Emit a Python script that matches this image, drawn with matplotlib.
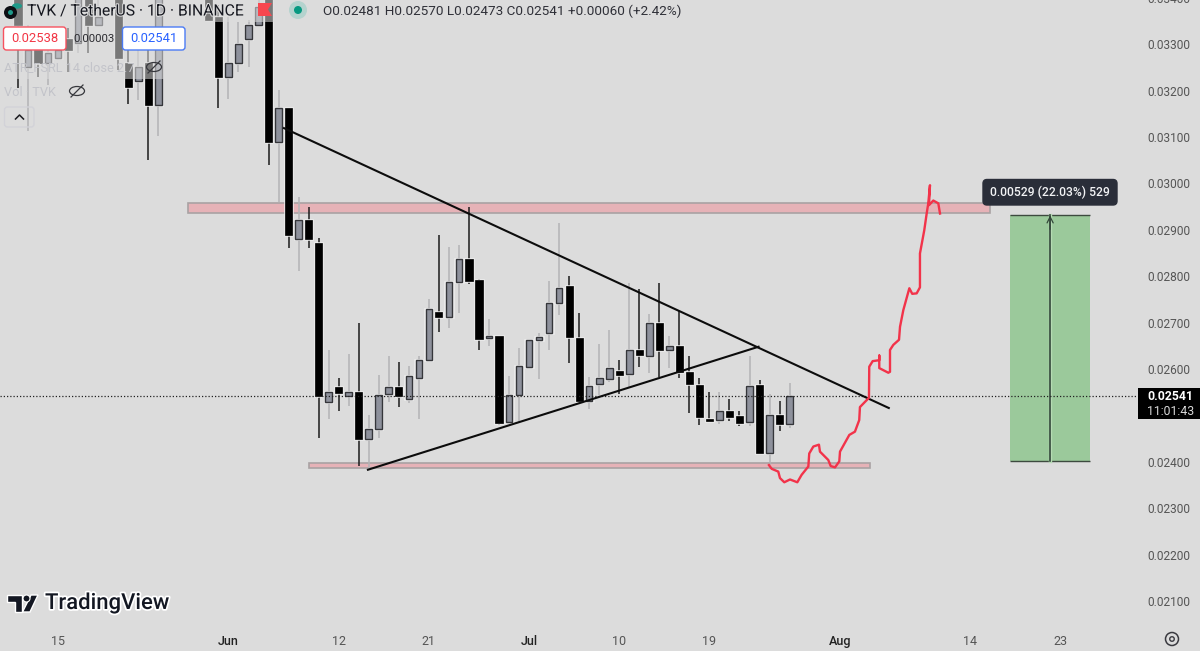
import numpy as np
import matplotlib
matplotlib.use("Agg")
import matplotlib.pyplot as plt
import matplotlib.patheffects as pe
from matplotlib.patches import Rectangle, FancyBboxPatch, Polygon, Circle, Ellipse

plt.rcParams['font.family'] = ['Roboto', 'DejaVu Sans']

# Prices are in points (0.00001), days are counted from 1 June
days = list(range(-21, 57))

opens = [3406, 3251, 3287, 3259, 3270, 3311, 3302, 3406, 3341, 3450, 3406, 3259, 3221, 3259, 3169,
         3440, 3470, 3480, 3450, 3406, 3358, 3229, 3259, 3311, 3341, 3406, 3089, 3162, 2880, 2920,
         2871, 2530, 2561, 2541, 2550, 2449, 2470, 2546, 2561, 2536, 2581, 2620, 2722, 2712, 2787,
         2836, 2791, 2666, 2671, 2485, 2545, 2604, 2662, 2677, 2743, 2779, 2666, 2531, 2567, 2579,
         2596, 2589, 2640, 2629, 2700, 2640, 2650, 2594, 2566, 2492, 2490, 2509, 2499, 2485, 2566,
         2419, 2500, 2481]
closes = [3341, 3287, 3259, 3281, 3287, 3287, 3406, 3341, 3358, 3470, 3270, 3208, 3251, 3169, 3406,
          3470, 3450, 3450, 3406, 3352, 3229, 3259, 3300, 3341, 3380, 3089, 3162, 2889, 2920, 2880,
          2541, 2551, 2549, 2550, 2449, 2470, 2544, 2561, 2541, 2584, 2620, 2729, 2712, 2788, 2836,
          2790, 2664, 2671, 2483, 2544, 2607, 2663, 2670, 2743, 2775, 2668, 2531, 2564, 2580, 2602,
          2588, 2640, 2630, 2700, 2641, 2650, 2594, 2567, 2497, 2489, 2510, 2497, 2483, 2564, 2419,
          2500, 2481, 2541]
highs = [3438, 3341, 3330, 3309, 3330, 3335, 3427, 3427, 3395, 3480, 3427, 3298, 3298, 3287, 3427,
         3480, 3490, 3490, 3470, 3427, 3384, 3358, 3348, 3352, 3406, 3427, 3201, 3162, 2971, 2950,
         2882, 2641, 2580, 2632, 2700, 2501, 2587, 2627, 2615, 2607, 2628, 2751, 2889, 2862, 2867,
         2948, 2793, 2707, 2671, 2584, 2645, 2663, 2678, 2790, 2915, 2800, 2720, 2582, 2653, 2684,
         2620, 2785, 2772, 2718, 2786, 2671, 2724, 2628, 2580, 2551, 2550, 2535, 2510, 2627, 2576,
         2546, 2531, 2570]
lows = [3205, 3113, 3229, 3212, 3266, 3240, 3281, 3281, 3341, 3440, 3244, 3171, 3180, 3050, 3102,
        3420, 3440, 3440, 3400, 3352, 3162, 3182, 3240, 3251, 3341, 3040, 2960, 2861, 2812, 2861,
        2451, 2492, 2510, 2521, 2391, 2387, 2451, 2528, 2518, 2526, 2493, 2620, 2680, 2688, 2721,
        2783, 2640, 2650, 2480, 2485, 2485, 2604, 2579, 2641, 2716, 2612, 2526, 2514, 2544, 2573,
        2546, 2562, 2604, 2591, 2582, 2602, 2580, 2505, 2480, 2487, 2481, 2487, 2477, 2478, 2419,
        2393, 2467, 2473]

zone_days = [[-4, 76], [8, 64]]
zone_prices = [[2936, 2957], [2386, 2397]]

falling_days = [5.54, 65.9]
falling_prices = [3119, 2516]
rising_days = [13.92, 52.9]
rising_prices = [2383, 2648]

sketch_days = [53.94, 54.21, 54.87, 55.04, 55.47, 56.04, 56.77, 57.20, 57.87, 57.96, 58.37, 58.93,
               59.03, 59.86, 60.10, 60.53, 60.96, 61.03, 61.96, 62.52, 62.95, 63.02, 63.92, 63.95,
               64.29, 64.95, 64.95, 64.95, 65.85, 66.02, 66.02, 66.35, 66.92, 67.02, 67.35, 67.95,
               68.24, 68.68, 69.01, 69.01, 69.44, 69.68, 69.84, 70.01, 69.91, 70.34, 70.84, 71.01]
sketch_prices = [2393, 2385, 2379, 2365, 2356, 2362, 2356, 2372, 2390, 2418, 2433, 2437,
                 2422, 2404, 2391, 2388, 2401, 2422, 2458, 2465, 2490, 2518, 2538, 2605,
                 2617, 2619, 2629, 2602, 2592, 2594, 2641, 2652, 2663, 2691, 2727, 2774,
                 2762, 2763, 2776, 2849, 2899, 2935, 2957, 2996, 2953, 2963, 2957, 2935]

range_days = [78, 86]
range_prices = [2402, 2931]
last_price = 2541

price_ticks = [2100, 2200, 2300, 2400, 2500, 2600, 2700, 2800, 2900, 3000, 3100, 3200, 3300, 3400]
hidden_price_ticks = [2500]
date_ticks = [-17, 0, 11, 20, 30, 39, 48, 61, 74, 83]
date_labels = ["15", "Jun", "12", "21", "Jul", "10", "19", "Aug", "14", "23"]
month_labels = ["Jun", "Jul", "Aug"]

BG = "#dcdcdc"
SCALE = 100000


def p(v):
    return np.array(v) / SCALE


W, H = 1200, 651


def fx(x):
    return x / W


def fy(y):
    return 1 - y / H


fig = plt.figure(figsize=(12, 6.51), dpi=100, facecolor=BG)
# axes run a little past the top so the 0.03400 label gets cut like the screenshot
ax = fig.add_axes([0, 1 - 628 / H, 1138 / W, (628 + 6) / H], facecolor=BG)
ax.set_xlim(-22.80, 90.77)
ax.set_ylim(p(2042), p(3408))
for s in ax.spines.values():
    s.set_visible(False)

# Zones
for (d0, d1), (p0, p1) in zip(zone_days, zone_prices):
    ax.add_patch(Rectangle((d0, p(p0)), d1 - d0, p(p1) - p(p0), fc="#e6b2b7", ec="#a9a2a3", lw=1.2, zorder=1))

# Candles
o, c, hi, lo = map(p, (opens, closes, highs, lows))
d = np.array(days)
up = c >= o
ax.vlines(d[up], lo[up], hi[up], color="#b3b3b5", lw=1.1, zorder=2)
ax.vlines(d[~up], lo[~up], hi[~up], color="#1c1c1c", lw=1.1, zorder=2)
body_bottom = np.minimum(o, c)
body_height = np.abs(c - o)
ax.bar(d, body_height, bottom=body_bottom, width=0.72, color="none", edgecolor="#eeeeee", lw=1.8, zorder=3)
ax.bar(d[up], body_height[up], bottom=body_bottom[up], width=0.66, color="#8e919c", edgecolor="#35363a", lw=1.0, zorder=4)
ax.bar(d[~up], body_height[~up], bottom=body_bottom[~up], width=0.72, color="#000000", edgecolor="#000000", lw=0.5, zorder=4)

# Last price line
ax.axhline(p(last_price), color="#222222", lw=0.9, ls=(0, (1, 1.6)), zorder=5)

# Trend lines
ax.plot(falling_days, p(falling_prices), color="#0c0c0c", lw=1.5, zorder=6)
ax.plot(rising_days, p(rising_prices), color="#0c0c0c", lw=1.5, zorder=6)

# Price range tool
ax.add_patch(Rectangle((range_days[0], p(range_prices[0])), range_days[1] - range_days[0],
                       p(range_prices[1]) - p(range_prices[0]), fc="#9bc99b", ec="none", zorder=1))
ax.hlines(p(range_prices), range_days[0], range_days[1], color="#3d4a3f", lw=1.0, zorder=2)
mid = sum(range_days) / 2
ax.plot([mid, mid], p(range_prices), color="#b6dbb4", lw=2.4, zorder=2)
ax.plot([mid, mid], p(range_prices), color="#33473a", lw=1.2, zorder=3)
ax.annotate("", xy=(mid, p(range_prices[1])), xytext=(mid, p(range_prices[1]) - 0.0003),
            arrowprops=dict(arrowstyle="->", color="#33473a", lw=0.9, shrinkA=0, shrinkB=0, mutation_scale=11), zorder=4)

# Red sketch
ax.plot(sketch_days, p(sketch_prices), color="#f2334a", lw=1.7, solid_joinstyle="round", zorder=7)

# Axis labels
ax.yaxis.tick_right()
shown = [t for t in price_ticks if t not in hidden_price_ticks]
ax.set_yticks(p(shown))
ax.set_yticklabels([f"{t / SCALE:.5f}" for t in shown], fontsize=8.6, color="#555555")
ax.tick_params(axis="y", length=0, pad=6.5)
ax.set_xticks(date_ticks)
ax.set_xticklabels(date_labels, fontsize=9.0, color="#555555")
ax.tick_params(axis="x", length=0, pad=5)
for lab in ax.get_xticklabels():
    if lab.get_text() in month_labels:
        lab.set_color("#222222")
        lab.set_fontweight("medium")

# Legend washes over the candles
fig.add_artist(Rectangle((0, fy(22)), fx(680), 22 / H, fc=BG, ec="none", alpha=0.55, transform=fig.transFigure, zorder=10))
fig.add_artist(Rectangle((0, fy(79)), fx(185), 57 / H, fc=BG, ec="none", alpha=0.55, transform=fig.transFigure, zorder=10))

# Title row
halo = [pe.withStroke(linewidth=1.5, foreground=BG)]
fig.text(fx(27), fy(11), "TVK / TetherUS · 1D · BINANCE", fontsize=11.3, color="#15171f", va="center", zorder=12, path_effects=halo)
fig.text(fx(323), fy(11), "O0.02481 H0.02570 L0.02473 C0.02541 +0.00060 (+2.42%)", fontsize=9.7, color="#2f3038", va="center", zorder=12)
fig.add_artist(Circle((fx(17), fy(6)), 5 / W, fc="#1f9a8a", ec="none", transform=fig.transFigure, zorder=11))
fig.add_artist(Ellipse((fx(10.5), fy(12.5)), 13 / W, 13 / H, fc="#0d0f14", ec="none", transform=fig.transFigure, zorder=12))
fig.add_artist(Ellipse((fx(10.5), fy(12.5)), 5 / W, 5 / H, fc="#1f9a8a", ec="none", transform=fig.transFigure, zorder=13))
fig.add_artist(Polygon([(fx(258), fy(3)), (fx(272), fy(3)), (fx(268), fy(9.5)), (fx(272), fy(16)), (fx(258), fy(16))],
                       fc="#f7474f", ec="none", transform=fig.transFigure, zorder=12))
fig.add_artist(Ellipse((fx(298), fy(10)), 18 / W, 18 / H, fc="#b4d3ce", ec="none", transform=fig.transFigure, zorder=12))
fig.add_artist(Ellipse((fx(298), fy(10)), 8 / W, 8 / H, fc="#089981", ec="none", transform=fig.transFigure, zorder=13))


def tag(x0, y0, x1, y1, fc, ec, lw=1.0, rad=3):
    fig.add_artist(FancyBboxPatch((x0, H - y1), x1 - x0, y1 - y0, boxstyle=f"round,pad=0,rounding_size={rad}",
                                  fc=fc, ec=ec, lw=lw, transform=None, zorder=14))


# Buy and sell boxes
tag(3.5, 27, 66, 50, "#ffffff", "#f7525f")
fig.text(fx(35), fy(39), "0.02538", fontsize=9.4, color="#f23645", ha="center", va="center", zorder=15)
fig.text(fx(94), fy(39), "0.00003", fontsize=8.2, color="#2b2b30", ha="center", va="center", zorder=15)
tag(122.5, 27, 185, 50, "#ffffff", "#4b7bf5")
fig.text(fx(154), fy(39), "0.02541", fontsize=9.4, color="#2962ff", ha="center", va="center", zorder=15)

# Faded indicator rows
fig.text(fx(4), fy(67.5), "ATR_FSRL 14 close 2.7", fontsize=9.2, color="#c3c4ca", va="center", zorder=15)
fig.text(fx(4), fy(92), "Vol · TVK", fontsize=9.2, color="#c3c4ca", va="center", zorder=15)
for ex, ey in [(154, 67), (77, 91)]:
    fig.add_artist(Ellipse((fx(ex), fy(ey)), 15 / W, 9 / H, fc="none", ec="#37383d", lw=0.9, transform=fig.transFigure, zorder=15))
    fig.add_artist(plt.Line2D([fx(ex - 6), fx(ex + 6)], [fy(ey + 6), fy(ey - 6)], color="#37383d", lw=0.9, transform=fig.transFigure, zorder=15))
tag(4.5, 107, 34, 127, "none", "#d2d2d8")
fig.add_artist(plt.Line2D([fx(15.5), fx(19.5), fx(23.5)], [fy(119), fy(115), fy(119)], color="#1c1c20", lw=1.1, transform=fig.transFigure, zorder=15))

# Range tag
tag(983, 179.5, 1117, 205, "#2a2e39", "#2a2e39", rad=4)
fig.text(fx(1050), fy(192), "0.00529 (22.03%) 529", fontsize=8.7, fontweight="medium", color="#f2f3f5", ha="center", va="center", zorder=15)

# Last price tag on the axis
fig.add_artist(Rectangle((fx(1138), fy(419)), 62 / W, 31 / H, fc="#000000", ec="none", transform=fig.transFigure, zorder=12))
fig.text(fx(1147), fy(397), "0.02541", fontsize=8.8, color="#ffffff", fontweight="bold", va="center", zorder=15)
fig.text(fx(1147), fy(411.5), "11:01:43", fontsize=8.8, color="#d8d8d8", va="center", zorder=15)

# TradingView mark
white = [pe.withStroke(linewidth=2.5, foreground="#ffffff")]
logo_t = Polygon([(fx(7), fy(595)), (fx(22), fy(595)), (fx(22), fy(612)), (fx(14.5), fy(612)), (fx(14.5), fy(602)), (fx(7), fy(602))],
                 fc="#131722", ec="#ffffff", lw=1.0, transform=fig.transFigure, zorder=15)
logo_s = Polygon([(fx(31), fy(595)), (fx(38), fy(595)), (fx(30), fy(612)), (fx(22.5), fy(612))],
                 fc="#131722", ec="#ffffff", lw=1.0, transform=fig.transFigure, zorder=15)
fig.add_artist(logo_t)
fig.add_artist(logo_s)
fig.add_artist(Ellipse((fx(26.5), fy(598.5)), 7 / W, 7 / H, fc="#131722", ec="#ffffff", lw=0.8, transform=fig.transFigure, zorder=16))
fig.text(fx(45), fy(603.5), "TradingView", fontsize=15.9, fontweight="medium", color="#131722", va="center", zorder=15, path_effects=white)

# Settings gear
fig.add_artist(Ellipse((fx(1172), fy(639)), 13 / W, 13 / H, fc="none", ec="#3a3a40", lw=1.1, transform=fig.transFigure, zorder=15))
fig.add_artist(Ellipse((fx(1172), fy(639)), 4.5 / W, 4.5 / H, fc="none", ec="#3a3a40", lw=1.0, transform=fig.transFigure, zorder=15))

fig.savefig("out.png", dpi=100, facecolor=BG)
